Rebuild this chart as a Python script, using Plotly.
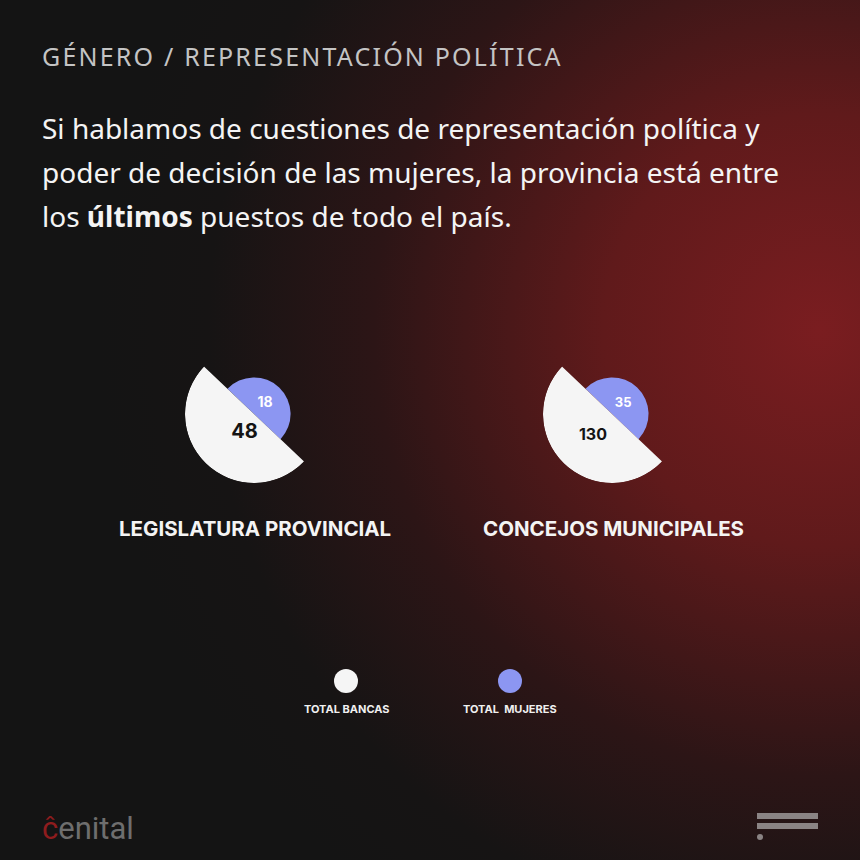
import base64
import plotly.graph_objects as go

# datos
cuerpos = ["LEGISLATURA PROVINCIAL", "CONCEJOS MUNICIPALES"]
total_bancas = [48, 130]
total_mujeres = [18, 35]
series = ["TOTAL BANCAS", "TOTAL  MUJERES"]

BLANCO = "#f5f5f5"
AZUL = "#8c96f2"
W = H = 860

# fondo con degradé rojo
svg = f"""<svg xmlns='http://www.w3.org/2000/svg' width='{W}' height='{H}'>
<defs><radialGradient id='g' cx='820' cy='330' r='720' gradientUnits='userSpaceOnUse'>
<stop offset='0' stop-color='#7a1d20'/>
<stop offset='0.3' stop-color='#601a1b'/>
<stop offset='0.62' stop-color='#2c1516'/>
<stop offset='0.85' stop-color='#161414'/>
<stop offset='1' stop-color='#141414'/>
</radialGradient></defs>
<rect width='100%' height='100%' fill='#141414'/>
<rect width='100%' height='100%' fill='url(#g)'/>
</svg>"""
bg_src = "data:image/svg+xml;base64," + base64.b64encode(svg.encode()).decode()

fig = go.Figure()

# centros (px) y radio de cada gráfico
centros = [(254, 414), (612, 414)]
radio = 69
corte = 46.5  # ángulo del lado azul

num_font = "Inter"
for i, (cx, cy) in enumerate(centros):
    pid = "polar" if i == 0 else f"polar{i + 1}"
    sub = pid
    fig.add_trace(go.Barpolar(
        r=[0.53], theta=[corte], width=[180], marker_color=AZUL,
        marker_line_width=0, subplot=sub, showlegend=False, hoverinfo="skip"))
    fig.add_trace(go.Barpolar(
        r=[1], theta=[corte + 180], width=[180], marker_color=BLANCO,
        marker_line_width=0, subplot=sub, showlegend=False, hoverinfo="skip"))
    big = 20 if total_bancas[i] < 100 else 16
    small = 14 if total_mujeres[i] < 30 else 13
    fig.add_trace(go.Scatterpolar(
        r=[0.31 if i == 0 else 0.42], theta=[244 if i == 0 else 229],
        mode="text", text=[f"<b>{total_bancas[i]}</b>"],
        textfont=dict(family=num_font, size=big, color="#141414"),
        subplot=sub, showlegend=False, hoverinfo="skip"))
    fig.add_trace(go.Scatterpolar(
        r=[0.22], theta=[43],
        mode="text", text=[f"<b>{total_mujeres[i]}</b>"],
        textfont=dict(family=num_font, size=small, color="white"),
        subplot=sub, showlegend=False, hoverinfo="skip"))
    polar = dict(
        domain=dict(x=[(cx - radio) / W, (cx + radio) / W],
                    y=[1 - (cy + radio) / H, 1 - (cy - radio) / H]),
        bgcolor="rgba(0,0,0,0)", hole=0,
        radialaxis=dict(range=[0, 1], visible=False),
        angularaxis=dict(visible=False, rotation=0, direction="counterclockwise"),
        bargap=0)
    fig.update_layout(**{pid: polar})

# leyenda
leg_x = [346, 510]
fig.add_trace(go.Scatter(
    x=leg_x, y=[681, 681], mode="markers",
    marker=dict(size=24, color=[BLANCO, AZUL]),
    showlegend=False, hoverinfo="skip", cliponaxis=False))

ann = []
ann.append(dict(x=40, y=56,
                text="<span style='letter-spacing:2.2px'>GÉNERO / REPRESENTACIÓN POLÍTICA</span>",
                font=dict(family="Noto Sans", size=25, color="#c4c4c4"),
                xanchor="left", yanchor="middle", showarrow=False))
lineas = ["Si hablamos de cuestiones de representación política y",
          "poder de decisión de las mujeres, la provincia está entre",
          "los <b>últimos</b> puestos de todo el país."]
for k, t in enumerate(lineas):
    ann.append(dict(x=40, y=128 + 44 * k, text=t,
                    font=dict(family="Noto Sans", size=28, color="#f4f4f4"),
                    xanchor="left", yanchor="middle", showarrow=False))
for (cx, cy), nombre in zip(centros, cuerpos):
    ann.append(dict(x=cx + 1, y=528, text=f"<b>{nombre}</b>",
                    font=dict(family="Inter", size=20.5, color="#f4f4f4"),
                    xanchor="center", yanchor="middle", showarrow=False))
for x, s in zip(leg_x, series):
    ann.append(dict(x=x, y=709, text=f"<b>{s}</b>",
                    font=dict(family="Inter", size=11, color="#f0f0f0"),
                    xanchor="center", yanchor="middle", showarrow=False))
ann.append(dict(x=40, y=828,
                text="<span style='color:#8e1c1e'>ĉ</span>enital",
                font=dict(family="Roboto", size=31, color="#6e6e6e"),
                xanchor="left", yanchor="middle", showarrow=False))
for a in ann:
    a.update(xref="x", yref="y")

shapes = [
    dict(type="rect", x0=757, x1=818, y0=813, y1=819, fillcolor="#8a8484", line_width=0),
    dict(type="rect", x0=757, x1=818, y0=823, y1=829, fillcolor="#8a8484", line_width=0),
    dict(type="circle", x0=757, x1=763, y0=834, y1=840, fillcolor="#8a8484", line_width=0),
]
for s in shapes:
    s.update(xref="x", yref="y", layer="above")

fig.update_layout(
    width=W, height=H, margin=dict(l=0, r=0, t=0, b=0),
    paper_bgcolor="#141414", plot_bgcolor="rgba(0,0,0,0)",
    xaxis=dict(range=[0, W], visible=False, domain=[0, 1], fixedrange=True),
    yaxis=dict(range=[H, 0], visible=False, domain=[0, 1], fixedrange=True),
    annotations=ann, shapes=shapes,
    images=[dict(source=bg_src, xref="paper", yref="paper", x=0, y=1,
                 sizex=1, sizey=1, sizing="stretch", layer="below",
                 xanchor="left", yanchor="top")],
)

fig.write_html("out.html", config={"displayModeBar": False},
               post_script="document.body.style.margin='0';")
